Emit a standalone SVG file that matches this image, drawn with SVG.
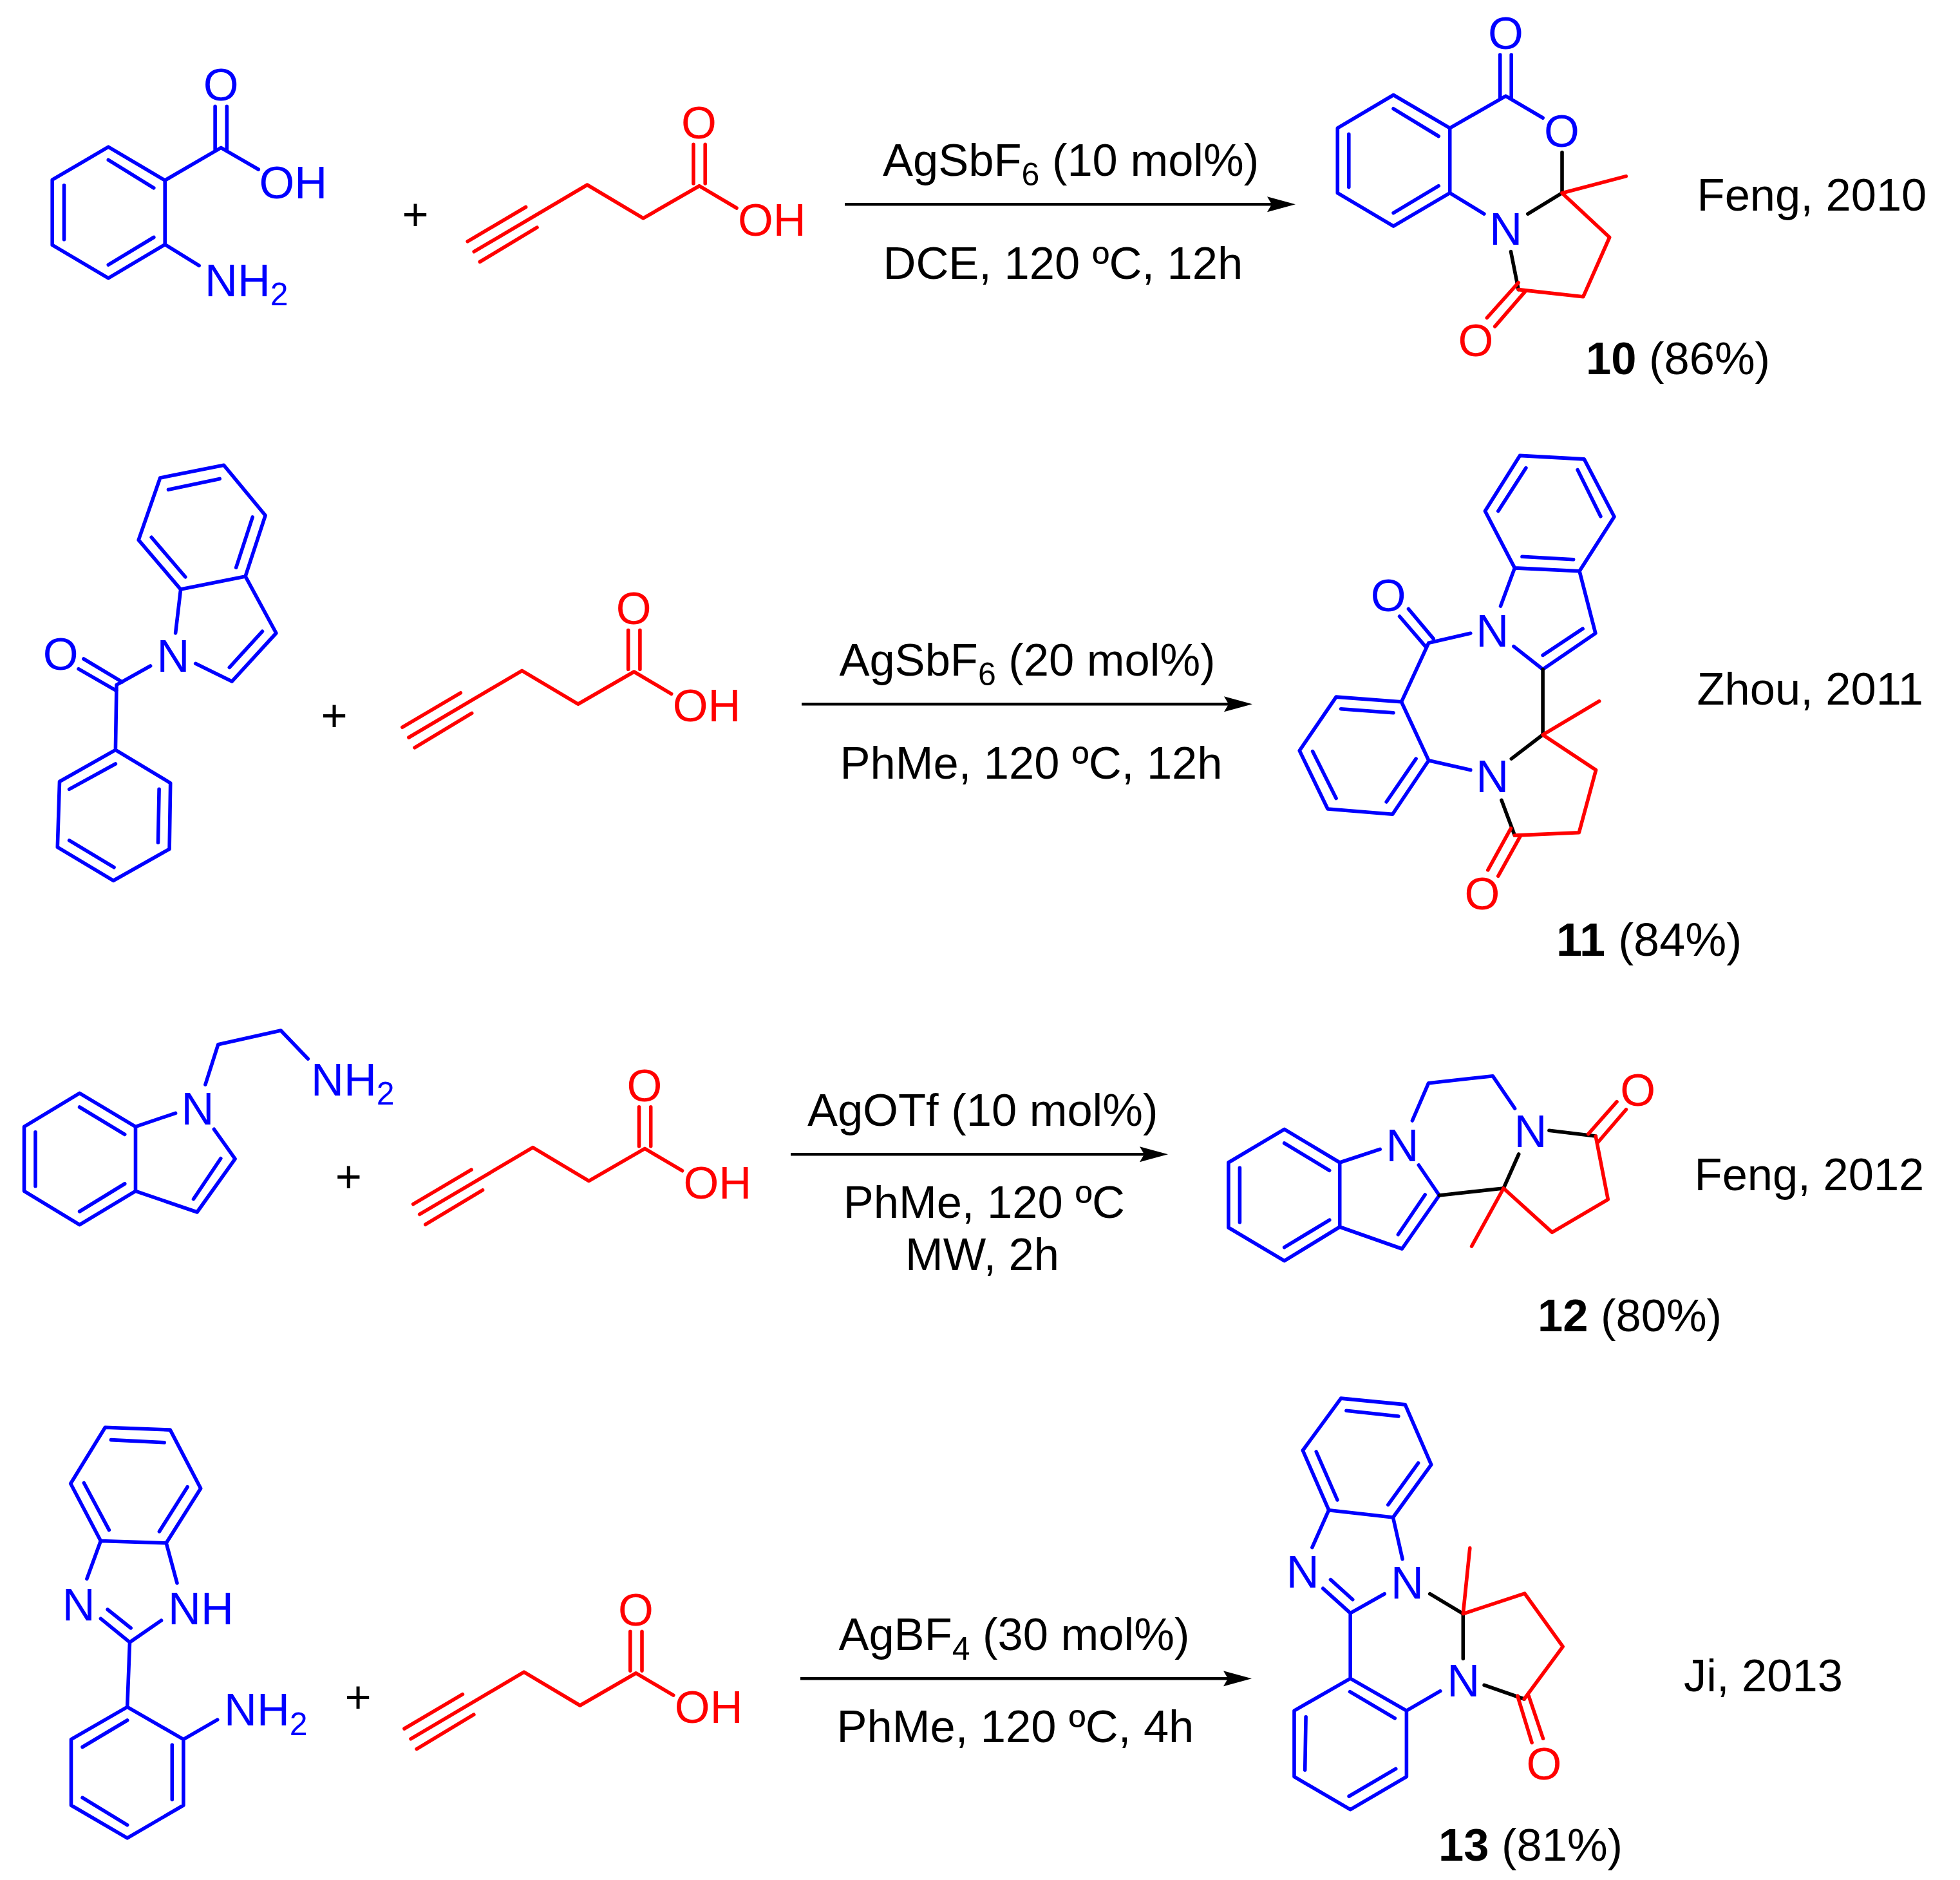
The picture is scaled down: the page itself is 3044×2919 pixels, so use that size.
<svg xmlns="http://www.w3.org/2000/svg" width="3044" height="2919" viewBox="0 0 3044 2919">
<style>
path{fill:none;stroke-width:5.6;stroke-linecap:round;stroke-linejoin:round}
.b{stroke:#0000ff}.r{stroke:#ff0000}.k{stroke:#000000}
text{font-family:"Liberation Sans",Arial,sans-serif;font-size:70.5px;fill:#000000}
.tb{fill:#0000ff}.tr{fill:#ff0000}.m{text-anchor:middle}
.s{font-size:50px}
.bd{font-weight:bold}
.arrow{stroke:#000;stroke-width:4.5;stroke-linecap:butt;fill:none;marker-end:url(#head)}
</style>
<defs>
<marker id="head" markerUnits="userSpaceOnUse" markerWidth="46" markerHeight="26" viewBox="0 -13 46 26" refX="7" refY="0" orient="auto"><path d="M0 -12L44 0L0 12L7 0Z" style="fill:#000;stroke:none"/></marker>
</defs>
<rect width="3044" height="2919" fill="#ffffff"/>

<g id="connectors">
<line class="arrow" x1="1312" y1="317.3" x2="1975" y2="317.3"/>
<line class="arrow" x1="1245" y1="1093.3" x2="1908" y2="1093.3"/>
<line class="arrow" x1="1228" y1="1792.3" x2="1777" y2="1792.3"/>
<line class="arrow" x1="1243" y1="2606.3" x2="1907" y2="2606.3"/>
</g>

<g id="anthranilic-acid">
<path class="b" d="M168.3 228.2L256.2 280V379.6L168.3 431.8L81.2 380.4V279.2ZM168.3 248.3L238.8 291.8M99.5 287.9V371.7M238.8 368.5L168.3 411.2M256.2 280L343.2 229.3L401.3 263M334.1 165.3V234M352.3 165.3V234M256.2 379.6L309.2 412.4"/>
<text class="tb m" x="343.2" y="156.3">O</text>
<text class="tb" x="402.5" y="307.6">OH</text>
<text class="tb" x="318" y="459.5">NH<tspan class="s" dy="14">2</tspan></text>
</g>
<text id="plus-1" class="m" x="645" y="356.5">+</text>
<g id="pentynoic-acid-1">
<path class="r" d="M736.2 390.7L912 287L999 338.9L1086 288.7L1144 323M726.2 374.9L816.6 321.5M745.3 406.5L834 353.1M1077 224.2V285M1095.2 224.2V285"/>
<text class="tr m" x="1085.5" y="215.2">O</text>
<text class="tr" x="1146" y="366.2">OH</text>
</g>
<g id="reagents-1">
<text x="1371" y="272.5">AgSbF<tspan class="s" dy="15">6</tspan><tspan dy="-15"> (10 mol%)</tspan></text>
<text x="1371.5" y="432.5">DCE, 120 ºC, 12h</text>
</g>
<g id="product-10">
<path class="b" d="M2164.1 147.5L2251.7 198.9V299.7L2164.1 351.1L2077.3 299.7V198.9ZM2164.1 168.8L2234.2 211.5M2094.8 208.4V290.6M2234.2 288.7L2164.1 330.6M2251.7 198.9L2338.5 149.1L2396.1 183M2329.7 85V153M2347.2 85V153M2251.7 299.7L2304.9 332.1"/>
<path class="k" d="M2426 236.5V299.7L2372.8 332.1M2346.5 390.7L2358.2 449.6"/>
<path class="r" d="M2525.3 273.6L2426 299.7L2499.7 368.5L2458.9 460.7L2358.2 449.6M2358.2 438.9L2309.3 493.5M2368.4 452.8L2321.7 506.9"/>
<text class="tb m" x="2338.5" y="75.6">O</text>
<text class="tb m" x="2425.3" y="227.8">O</text>
<text class="tb m" x="2338.8" y="379.6">N</text>
<text class="tr m" x="2291.8" y="552.9">O</text>
<text x="2463" y="581"><tspan class="bd">10</tspan> (86%)</text>
</g>
<text id="ref-1" x="2635.6" y="326.7">Feng, 2010</text>

<g id="benzoyl-indole">
<path class="b" d="M347.6 722.2L412.1 800.3L381.1 894.9L280.6 915.1L215.2 838.4L248.7 742ZM261.5 760.3L341.2 743.4M392.2 803L366.7 881.1M235.2 834.3L287.8 895.8M280.6 915.1L272.6 983M381.1 894.9L428.9 983L360.3 1057.9L303.7 1030.3M407.4 980.3L356.3 1036.3M233.6 1034L181 1063.4L179.4 1164.4M129.9 1023L189.7 1058.8M122 1038.6L181 1072.6M179.4 1164.4L264.7 1215.8L263.1 1318.2L176.2 1367.3L89.3 1315.4L92.5 1213.5ZM179.4 1186L107.6 1225.4M247.1 1225.4L245.5 1308.1M107.6 1304.9L177 1346.7"/>
<text class="tb m" x="269" y="1042.7">N</text>
<text class="tb m" x="94.1" y="1040.2">O</text>
</g>
<text id="plus-2" class="m" x="519" y="1134.7">+</text>
<g id="pentynoic-acid-2" transform="translate(-101.3 754.3)">
<path class="r" d="M736.2 390.7L912 287L999 338.9L1086 288.7L1144 323M726.2 374.9L816.6 321.5M745.3 406.5L834 353.1M1077 224.2V285M1095.2 224.2V285"/>
<text class="tr m" x="1085.5" y="215.2">O</text>
<text class="tr" x="1146" y="366.2">OH</text>
</g>
<g id="reagents-2">
<text x="1303.4" y="1049">AgSbF<tspan class="s" dy="15">6</tspan><tspan dy="-15"> (20 mol%)</tspan></text>
<text x="1304.5" y="1208.5">PhMe, 120 ºC, 12h</text>
</g>
<g id="product-11">
<path class="b" d="M2360.4 707.4L2460.3 712.9L2507 802.3L2453 886.8L2352.4 881.9L2306.4 793.5ZM2369.9 726.6L2326.8 793.5M2450.1 729.4L2485.9 801.8M2364 864.3L2443.6 868.7M2352.4 881.9L2330.5 941.1M2453 886.8L2477.9 983.3L2396.1 1039.3L2350.9 1003.6M2458.1 976.2L2396.1 1017.4M2283.8 983.3L2218.8 998.2L2176.5 1089.8M2187.5 945.5L2226.1 991.6M2173.6 957L2213.7 1003.6M2176.5 1089.8L2218.8 1180.8L2162.7 1264.2L2062 1256L2018.2 1165.5L2075.1 1082.1ZM2082.4 1100.7L2164.1 1106.8M2038.6 1166.6L2075.1 1239.5M2199.1 1178.1L2153.2 1245M2218.8 1180.8L2283.8 1195.6"/>
<path class="k" d="M2396.1 1039.3V1140.8L2347.3 1178.1M2331.9 1242.3L2352.4 1297.1"/>
<path class="r" d="M2483.7 1088.7L2396.1 1140.8L2478.6 1195.6L2452.3 1292.7L2352.4 1297.1M2346.5 1286.1L2310.8 1350.9M2361.8 1297.1L2326.8 1360.2"/>
<text class="tb m" x="2317.7" y="1003.6">N</text>
<text class="tb m" x="2317.7" y="1230.2">N</text>
<text class="tb m" x="2156.1" y="948.6">O</text>
<text class="tr m" x="2302" y="1412.1">O</text>
<text x="2417" y="1484" style="font-size:72px"><tspan class="bd">11</tspan> (84%)</text>
</g>
<text id="ref-2" x="2635.5" y="1093.5">Zhou, 2011</text>

<g id="aminoethyl-indole">
<path class="b" d="M123.6 1697.3L210.5 1749.3V1849.3L123.6 1901.7L37.5 1849.3V1749.3ZM123.6 1719L193.7 1761.3M55 1757.7V1841.7M193.7 1838L123.6 1881M210.5 1749.3L272.6 1728.3M332.4 1753.3L365.1 1799.3L306.1 1882L210.5 1849.3M342.8 1798.7L300.5 1861.7M318.9 1684L338.8 1621.7L436.1 1600L478.3 1644"/>
<text class="tb m" x="307" y="1745.7">N</text>
<text class="tb" x="483" y="1700.7">NH<tspan class="s" dy="14">2</tspan></text>
</g>
<text id="plus-3" class="m" x="541.3" y="1850.5">+</text>
<g id="pentynoic-acid-3" transform="translate(-84.5 1494.7)">
<path class="r" d="M736.2 390.7L912 287L999 338.9L1086 288.7L1144 323M726.2 374.9L816.6 321.5M745.3 406.5L834 353.1M1077 224.2V285M1095.2 224.2V285"/>
<text class="tr m" x="1085.5" y="215.2">O</text>
<text class="tr" x="1146" y="366.2">OH</text>
</g>
<g id="reagents-3">
<text x="1253.9" y="1747.5">AgOTf (10 mol%)</text>
<text x="1309.7" y="1891">PhMe, 120 ºC</text>
<text x="1406" y="1972">MW, 2h</text>
</g>
<g id="product-12">
<path class="b" d="M1994.7 1753.3L2080.7 1805V1905L1994.7 1957.7L1907.9 1906V1805ZM1994.7 1775L2064.7 1817.3M1925.4 1813.3V1897.7M2064.7 1894.3L1994.7 1936.7M2080.7 1805L2143.2 1784.3M2203.3 1809L2235.3 1856L2177.4 1939L2080.7 1905M2213.2 1855L2171.4 1916.7M2193.4 1740L2218.6 1681.7L2318.3 1670.7L2352.6 1721"/>
<path class="k" d="M2235.3 1856L2335.1 1845L2358.7 1792M2405.9 1755.3L2478.2 1764"/>
<path class="r" d="M2478.2 1764L2497.3 1862.3L2410.5 1913.3L2335.1 1845L2285.6 1935M2466.8 1760.7L2511 1710.7M2480.5 1775L2525.4 1722.7"/>
<text class="tb m" x="2178" y="1802.7">N</text>
<text class="tb m" x="2377" y="1780.7">N</text>
<text class="tr m" x="2543.7" y="1716.7">O</text>
<text x="2388" y="2067"><tspan class="bd">12</tspan> (80%)</text>
</g>
<text id="ref-3" x="2631.6" y="1847.5">Feng, 2012</text>

<g id="aminophenyl-benzimidazole">
<path class="b" d="M163.3 2216.3L264.3 2220.1L311.7 2311L258.2 2395.8L156.4 2392.5L109.7 2303.5ZM172.4 2235.6L255.1 2239.8M291.1 2308.7L247.4 2377.9M130.4 2302.5L169.4 2375.6M156.4 2392.5L134.9 2451.4M258.2 2395.8L275 2458M156.4 2513.2L201.5 2549.9L250.5 2516M167.1 2499L203.1 2527.8M201.5 2549.9L197.7 2650.3L284.9 2700.7V2803L197.7 2853.9L110.5 2803V2700.7L197.7 2650.3M197.7 2671L128.1 2712.5M267.3 2709.2V2794M128.1 2791.2L197.7 2833.6M284.9 2700.7L337.7 2670.1"/>
<text class="tb m" x="122.3" y="2515.5">N</text>
<text class="tb" x="261" y="2521.7">NH</text>
<text class="tb" x="348" y="2678.6">NH<tspan class="s" dy="15">2</tspan></text>
</g>
<text id="plus-4" class="m" x="556" y="2659.3">+</text>
<g id="pentynoic-acid-4" transform="translate(-98.2 2309.1)">
<path class="r" d="M736.2 390.7L912 287L999 338.9L1086 288.7L1144 323M726.2 374.9L816.6 321.5M745.3 406.5L834 353.1M1077 224.2V285M1095.2 224.2V285"/>
<text class="tr m" x="1085.5" y="215.2">O</text>
<text class="tr" x="1146" y="366.2">OH</text>
</g>
<g id="reagents-4">
<text x="1302.4" y="2561.5">AgBF<tspan class="s" dy="15">4</tspan><tspan dy="-15"> (30 mol%)</tspan></text>
<text x="1299.5" y="2705.2">PhMe, 120 ºC, 4h</text>
</g>
<g id="product-13">
<path class="b" d="M2082.6 2171.1L2182.3 2180.9L2222.8 2274.1L2163.5 2356L2063.7 2344.7L2023.3 2252ZM2090.9 2190.2L2171.9 2199M2202.6 2271.6L2155.8 2336.4M2044.2 2254L2077 2329M2063.7 2344.7L2037.9 2402.6M2163.5 2356L2178.1 2420.7M2054.7 2466.3L2097.2 2504.6L2150.2 2474.7M2066.5 2452.6L2100.7 2483.5M2097.2 2504.6V2606.1L2184.4 2656.1V2758.6L2097.2 2809.6L2010 2758.6V2656.1L2097.2 2606.1M2096.5 2626.7L2166.3 2667.9M2028.1 2665.9L2026.7 2748.3M2167.7 2746.4L2095.1 2789M2184.4 2656.1L2236.8 2625.7"/>
<path class="k" d="M2220.7 2474.7L2272.3 2505.6V2575.2M2305.1 2616.4L2367.2 2638"/>
<path class="r" d="M2282.8 2403.6L2272.3 2505.6L2367.9 2474.2L2427.2 2556.6L2367.2 2638M2356.8 2633.1L2379.1 2705.7M2374.2 2633.1L2396.5 2699.3"/>
<text class="tb m" x="2023.2" y="2464.9">N</text>
<text class="tb m" x="2185.5" y="2482">N</text>
<text class="tb m" x="2272.7" y="2634">N</text>
<text class="tr m" x="2397.9" y="2762.5">O</text>
<text x="2234" y="2888.5"><tspan class="bd">13</tspan> (81%)</text>
</g>
<text id="ref-4" x="2615" y="2625.5">Ji, 2013</text>
</svg>
